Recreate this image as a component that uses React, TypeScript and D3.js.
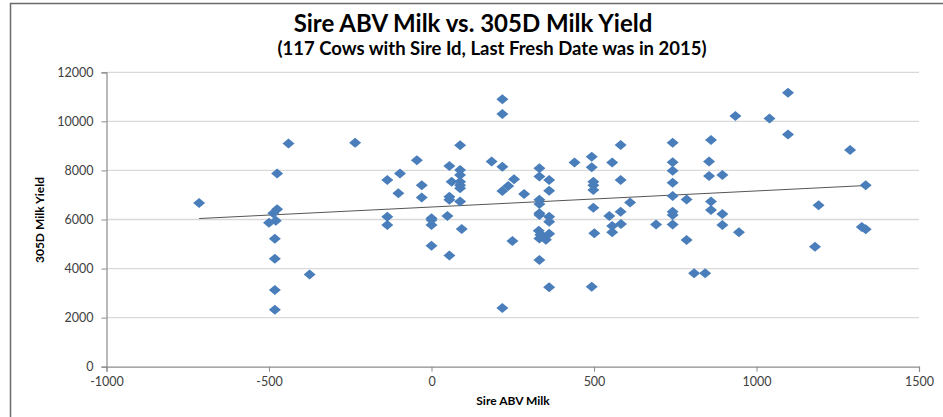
import React, { useEffect, useRef } from 'react';
import * as d3 from 'd3';

// Sire ABV Milk (x) and 305D Milk Yield (y)
const sireAbv: number[] = [
  -715, -475, -440, -235, -475, -487, -479, -500, -482, -482, -375, -482, -482,
  218, 218, 88, -45, -97, -136, -30, -102, -30, 55, 88, 88, 62, 88, 88, 55, 55, 88,
  -136, 0, 49, 185, 218, 254, 236, 218, 285, 332, 332, 362, 362, 332, 332, 332, 362,
  440, 493, 493, 556, 582, 498, 498, 498, 582, 611, 498, 582, 547,
  -136, 0, 0, 93, 0, 55, 249, 218, 332, 362, 330, 335, 345, 362, 352, 332, 332, 362, 493,
  556, 556, 583, 742, 742, 742, 742, 742, 785, 742, 742, 860, 854, 854, 895, 860, 860, 895,
  935, 1040, 1097, 1097, 1288, 1336, 1191, 691, 742, 785, 808, 842, 895, 946, 1180, 1324, 1336,
  501, 88,
];
const milkYield: number[] = [
  6670, 7870, 9100, 9130, 6420, 6250, 5950, 5870, 5220, 4400, 3760, 3130, 2320,
  10900, 10300, 9030, 8420, 7880, 7610, 7400, 7070, 6900, 8180, 8020, 7810, 7540, 7540, 7270, 6930, 6800, 6730,
  6110, 6050, 6140, 8360, 8150, 7640, 7370, 7160, 7040, 8090, 7750, 7610, 7170, 6800, 6630, 6250, 6110,
  8320, 8560, 8130, 8320, 9040, 7540, 7400, 7200, 7610, 6690, 6480, 6320, 6140,
  5780, 5980, 5780, 5610, 4930, 4530, 5120, 2390, 6180, 5910, 5540, 5380, 5300, 5420, 5170, 5230, 4350, 3240, 3260,
  5740, 5480, 5820, 9130, 8330, 7990, 7500, 6960, 6820, 6320, 6180, 9240, 8360, 7770, 7810, 6730, 6390, 6220,
  10220, 10120, 11170, 9460, 8830, 7400, 6580, 5800, 5800, 5160, 3810, 3810, 5780, 5480, 4890, 5690, 5600,
  5440, 7400,
];
const xTicks = [-1000, -500, 0, 500, 1000, 1500];
const yTicks = [0, 2000, 4000, 6000, 8000, 10000, 12000];

const W = 943;
const H = 417;
const font = 'Lato, "Open Sans", sans-serif';

export default function App() {
  const svgRef = useRef<SVGSVGElement | null>(null);

  useEffect(() => {
    const svg = d3.select(svgRef.current);
    svg.selectAll('*').remove();

    const plot = { left: 106.5, right: 919, top: 72.3, bottom: 366.7 };
    const x = d3.scaleLinear().domain([-1000, 1500]).range([plot.left, plot.right]);
    const y = d3.scaleLinear().domain([0, 12000]).range([plot.bottom, plot.top]);

    svg.append('rect').attr('width', W).attr('height', H).attr('fill', '#fff');
    // chart border
    svg
      .append('rect')
      .attr('x', 10.5)
      .attr('y', 3.5)
      .attr('width', 960)
      .attr('height', 500)
      .attr('fill', 'none')
      .attr('stroke', '#6b6b6b')
      .attr('stroke-width', 1.5);

    // gridlines
    svg
      .append('g')
      .selectAll('line')
      .data(yTicks.filter((t) => t > 0))
      .join('line')
      .attr('x1', plot.left)
      .attr('x2', plot.right)
      .attr('y1', (d) => y(d))
      .attr('y2', (d) => y(d))
      .attr('stroke', '#d9d9d9')
      .attr('stroke-width', 1.3);

    const fmt = (d: d3.NumberValue) => String(d);
    // y axis
    const yAxis = svg
      .append('g')
      .attr('transform', `translate(${plot.left},0)`)
      .call(d3.axisLeft(y).tickValues(yTicks).tickSize(5).tickPadding(8).tickFormat(fmt));
    // x axis
    const xAxis = svg
      .append('g')
      .attr('transform', `translate(0,${plot.bottom})`)
      .call(d3.axisBottom(x).tickValues(xTicks).tickSize(5).tickPadding(5).tickFormat(fmt));
    [yAxis, xAxis].forEach((a) => {
      a.select('.domain').attr('stroke', '#8c8c8c').attr('stroke-width', 1.2);
      a.selectAll('.tick line').attr('stroke', '#8c8c8c');
      a.selectAll('.tick text')
        .attr('fill', '#404040')
        .style('font-family', font)
        .style('font-size', '12.5px');
    });

    // trendline (least squares)
    const mx = d3.mean(sireAbv) as number;
    const my = d3.mean(milkYield) as number;
    let sxy = 0;
    let sxx = 0;
    sireAbv.forEach((v, i) => {
      sxy += (v - mx) * (milkYield[i] - my);
      sxx += (v - mx) * (v - mx);
    });
    const slope = sxy / sxx;
    const icpt = my - slope * mx;
    const ext = d3.extent(sireAbv) as [number, number];
    svg
      .append('line')
      .attr('x1', x(ext[0]))
      .attr('x2', x(ext[1]))
      .attr('y1', y(icpt + slope * ext[0]))
      .attr('y2', y(icpt + slope * ext[1]))
      .attr('stroke', '#555')
      .attr('stroke-width', 1);

    // diamond markers
    const diamond = 'M0,-5 L6,0 L0,5 L-6,0 Z';
    svg
      .append('g')
      .selectAll('path')
      .data(sireAbv.map((v, i) => [v, milkYield[i]]))
      .join('path')
      .attr('d', diamond)
      .attr('transform', (d) => `translate(${x(d[0])},${y(d[1])})`)
      .attr('fill', '#4a7ebb');

    // titles
    svg
      .append('text')
      .attr('x', 473)
      .attr('y', 32)
      .attr('text-anchor', 'middle')
      .style('font-family', font)
      .style('font-weight', 'bold')
      .style('font-size', '24px')
      .text('Sire ABV Milk vs. 305D Milk Yield');
    svg
      .append('text')
      .attr('x', 492)
      .attr('y', 55)
      .attr('text-anchor', 'middle')
      .style('font-family', font)
      .style('font-weight', 'bold')
      .style('font-size', '18.5px')
      .text('(117 Cows with Sire Id, Last Fresh Date was in 2015)');
    svg
      .append('text')
      .attr('x', 513)
      .attr('y', 405)
      .attr('text-anchor', 'middle')
      .style('font-family', font)
      .style('font-weight', 'bold')
      .style('font-size', '12px')
      .text('Sire ABV Milk');
    svg
      .append('text')
      .attr('transform', `translate(44,220) rotate(-90)`)
      .attr('text-anchor', 'middle')
      .style('font-family', font)
      .style('font-weight', 'bold')
      .style('font-size', '12px')
      .text('305D Milk Yield');
  }, []);

  return (
    <svg
      ref={svgRef}
      width={W}
      height={H}
      style={{ position: 'absolute', left: 0, top: 0, display: 'block' }}
    />
  );
}
